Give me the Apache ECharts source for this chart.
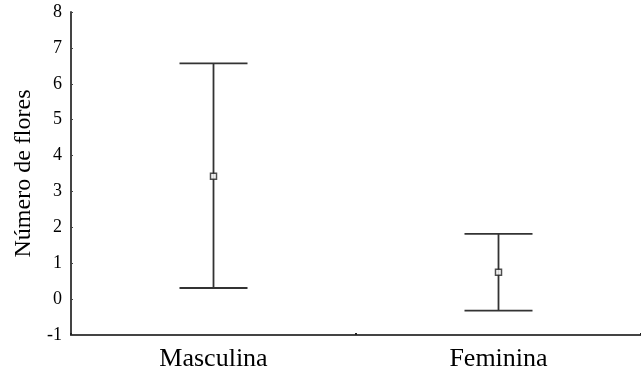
<!DOCTYPE html>
<html>
<head>
<meta charset="utf-8">
<script src="https://cdn.jsdelivr.net/npm/echarts@6/dist/echarts.min.js"></script>
<style>html,body{margin:0;padding:0;background:#fff}#c{width:641px;height:372px}</style>
</head>
<body>
<div id="c"></div>
<script>
var categories = ['Masculina', 'Feminina'];
var means = [3.42, 0.75];
var lowerVals = [0.31, -0.32];
var upperVals = [6.57, 1.82];
var yTicks = [-1, 0, 1, 2, 3, 4, 5, 6, 7, 8];

var FONT = '"Liberation Serif", "Times New Roman", serif';
var chart = echarts.init(document.getElementById('c'), null, {renderer: 'canvas'});

var errData = categories.map(function (c, i) { return [i, lowerVals[i], upperVals[i]]; });
var meanData = categories.map(function (c, i) { return [i, means[i]]; });

chart.setOption({
  animation: false,
  grid: {left: 71, right: 0, top: 12, bottom: 37, containLabel: false},
  xAxis: {
    type: 'category',
    data: categories,
    axisLine: {onZero: false, lineStyle: {color: '#444', width: 2}},
    axisTick: {show: true, inside: true, length: 2, lineStyle: {color: '#222', width: 2}},
    axisLabel: {color: '#000', fontFamily: FONT, fontSize: 26, margin: 11},
    splitLine: {show: false}
  },
  yAxis: {
    type: 'value',
    min: yTicks[0],
    max: yTicks[yTicks.length - 1],
    interval: 1,
    name: 'Número de flores',
    nameLocation: 'middle',
    nameGap: 32,
    nameTextStyle: {color: '#000', fontFamily: FONT, fontSize: 24},
    axisLine: {show: true, lineStyle: {color: '#444', width: 2}},
    axisTick: {show: true, inside: true, length: 2, lineStyle: {color: '#444', width: 1}},
    axisLabel: {color: '#000', fontFamily: FONT, fontSize: 18, margin: 9,
      formatter: function (v) { return String(v); }},
    splitLine: {show: false}
  },
  series: [
    {
      type: 'custom',
      data: errData,
      renderItem: function (params, api) {
        var x = api.value(0);
        var lo = api.coord([x, api.value(1)]);
        var hi = api.coord([x, api.value(2)]);
        var hw = 34;
        var st = {stroke: '#333', lineWidth: 1.8};
        return {
          type: 'group',
          children: [
            {type: 'line', shape: {x1: hi[0], y1: hi[1], x2: lo[0], y2: lo[1]}, style: st},
            {type: 'line', shape: {x1: hi[0] - hw, y1: hi[1], x2: hi[0] + hw, y2: hi[1]}, style: st},
            {type: 'line', shape: {x1: lo[0] - hw, y1: lo[1], x2: lo[0] + hw, y2: lo[1]}, style: st}
          ]
        };
      },
      z: 2
    },
    {
      type: 'scatter',
      data: meanData,
      symbol: 'rect',
      symbolSize: 6,
      itemStyle: {color: '#fff', borderColor: '#222', borderWidth: 1.5},
      z: 3
    }
  ]
});
</script>
</body>
</html>
